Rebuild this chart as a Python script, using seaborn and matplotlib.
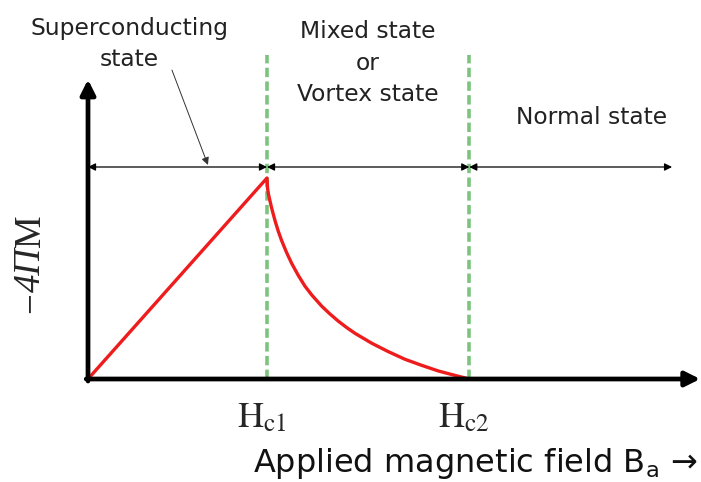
import matplotlib
matplotlib.use("Agg")
import matplotlib.pyplot as plt
import seaborn as sns
import pandas as pd

# magnetisation curve (field in units of Hc1, -4piM in units of its peak)
field = [0.0, 1.0, 1.003, 1.008, 1.017, 1.026, 1.045, 1.063, 1.082, 1.11, 1.138, 1.175,
         1.212, 1.25, 1.306, 1.35, 1.398, 1.445, 1.492, 1.585, 1.678, 1.771, 1.864,
         1.957, 2.05, 2.13]
magnet = [0.0, 1.0, 0.95, 0.92, 0.885, 0.85, 0.787, 0.735, 0.688, 0.628, 0.575, 0.515,
          0.462, 0.418, 0.362, 0.325, 0.288, 0.256, 0.227, 0.178, 0.136, 0.098, 0.068,
          0.040, 0.018, 0.0]
critical_fields = [1.0, 2.13]
critical_labels = [r"$\mathrm{H}_{\mathrm{c1}}$", r"$\mathrm{H}_{\mathrm{c2}}$"]
region_labels = ["Superconducting\nstate", "Mixed state\nor\nVortex state", "Normal state"]
# y label pieces (bottom to top) and whether each is italic
y_label_parts = [("\u2212", "normal"), ("4\u03a0", "italic"), ("M", "normal")]
x_label = r"Applied magnetic field B$_{\mathrm{a}}$ →"

sns.set_style("white")
plt.rcParams["font.family"] = ["DejaVu Sans"]

W, H = 701, 482
fig = plt.figure(figsize=(W / 100, H / 100), dpi=100)
ax = fig.add_axes([0, 0, 1, 1])
# pixel origin of the drawing is (88, 379); 179 px per unit in x, 201 px per unit in y
ax.set_xlim(-88 / 179, (W - 88) / 179)
ax.set_ylim(-(H - 379) / 201, 379 / 201)
ax.axis("off")


def fpos(px, py):
    return px / W, 1 - py / H


df = pd.DataFrame({"field": field, "magnet": magnet})
sns.lineplot(data=df, x="field", y="magnet", color="#ee1c1c", lw=2.4, ax=ax, zorder=4)

# dashed critical field lines
for hc in critical_fields:
    ax.plot([hc, hc], [0, 1.61], color="#7cc47e", lw=2.6, ls=(0, (2.6, 1.2)), zorder=3)

# main axes with arrow heads
ax.annotate("", xy=(0, 1.49), xytext=(0, -0.01),
            arrowprops=dict(arrowstyle="-|>", lw=3.4, color="black", mutation_scale=22,
                            shrinkA=0, shrinkB=0), zorder=5)
ax.annotate("", xy=(3.42, 0), xytext=(-0.01, 0),
            arrowprops=dict(arrowstyle="-|>", lw=3.4, color="black", mutation_scale=22,
                            shrinkA=0, shrinkB=0), zorder=5)

# region span arrows
yb = (379 - 167) / 201
spans = [(0, critical_fields[0]), (critical_fields[0], critical_fields[1]),
         (critical_fields[1], 3.263)]
for x0, x1 in spans:
    ax.annotate("", xy=(x1, yb), xytext=(x0, yb),
                arrowprops=dict(arrowstyle="<|-|>", lw=0.9, color="black", mutation_scale=11,
                                shrinkA=0, shrinkB=0))

# pointer from the superconducting label
ax.annotate("", xy=(0.670, 1.065), xytext=(0.469, 1.537),
            arrowprops=dict(arrowstyle="-|>", lw=0.7, color="#333333", mutation_scale=11,
                            shrinkA=0, shrinkB=0))

fig.text(*fpos(129, 44), region_labels[0], ha="center", va="center", fontsize=16.8,
         linespacing=1.45, color="#222222")
fig.text(*fpos(368, 63), region_labels[1], ha="center", va="center", fontsize=16.8,
         linespacing=1.45, color="#222222")
fig.text(*fpos(592, 117), region_labels[2], ha="center", va="center", fontsize=16.8,
         color="#222222")

# rotated y label, built piece by piece so "4Π" can be italic
renderer = fig.canvas.get_renderer()
y_cur = 313
for piece, style in y_label_parts:
    t = fig.text(*fpos(31, y_cur), piece, rotation=90, ha="center", va="bottom",
                 fontsize=26.5, family="Liberation Serif", style=style)
    y_cur -= t.get_window_extent(renderer).height

for hc, lab in zip(critical_fields, critical_labels):
    px = 88 + hc * 179
    fig.text(*fpos(px - 5, 427), lab, ha="center", va="baseline", fontsize=26,
             math_fontfamily="stix")

fig.text(*fpos(697, 472), x_label, ha="right", va="baseline", fontsize=23,
         color="#111111", math_fontfamily="dejavusans")

fig.savefig("out.png", dpi=100)
